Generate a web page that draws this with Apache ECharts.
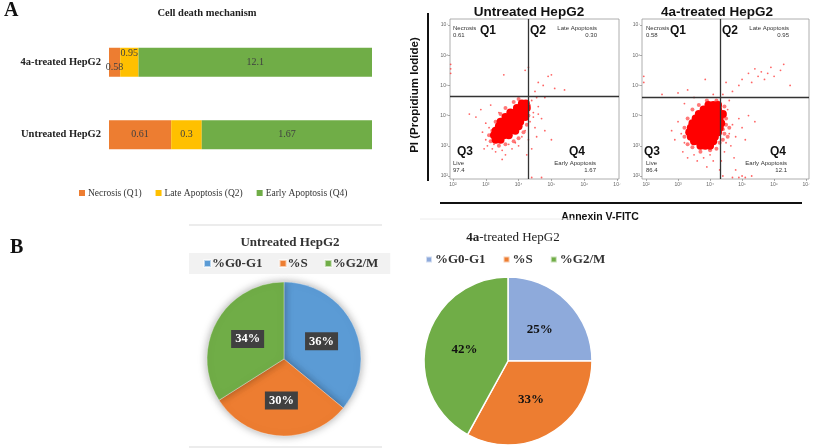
<!DOCTYPE html>
<html>
<head>
<meta charset="utf-8">
<script src="https://cdn.jsdelivr.net/npm/echarts@6/dist/echarts.min.js"></script>
<style>html,body{margin:0;padding:0;background:#fff;}#c{width:813px;height:448px;}</style>
</head>
<body>
<div id="c"></div>
<script>
// ---------- DATA ----------
var barCategories = ['4a-treated HepG2', 'Untreated HepG2'];
var necrosisQ1 = [0.58, 0.61];
var lateApoptosisQ2 = [0.95, 0.3];
var earlyApoptosisQ4 = [12.1, 1.67];

var quadNames = ['Necrosis', 'Late Apoptosis', 'Live', 'Early Apoptosis'];
var untreatedQuad = ['0.61', '0.30', '97.4', '1.67'];
var treatedQuad = ['0.58', '0.95', '86.4', '12.1'];
var logTicks = [2, 3, 4, 5, 6, 7];

// untreated flow events (log10 Annexin V, log10 PI), hand-read
var untreatedCore = [[3.3,3.2],[3.45,3.2],[3.25,3.35],[3.4,3.35],[3.55,3.35],[3.7,3.35],[3.3,3.5],[3.45,3.5],[3.6,3.5],[3.75,3.5],[3.9,3.5],
  [3.4,3.65],[3.55,3.65],[3.7,3.65],[3.85,3.65],[4.0,3.65],[3.45,3.8],[3.6,3.8],[3.75,3.8],[3.9,3.8],[4.05,3.8],
  [3.6,3.95],[3.75,3.95],[3.9,3.95],[4.05,3.95],[4.2,3.95],[3.75,4.1],[3.9,4.1],[4.05,4.1],[4.2,4.1],[3.95,4.25],[4.1,4.25],[4.25,4.25],[4.1,4.4],[4.22,4.4]];
var untreatedHalo = [[3.15,3.15],[3.2,3.5],[3.3,3.8],[3.45,4.05],[3.6,4.25],[3.85,4.45],[4.0,4.55],[4.3,4.3],[4.3,4.0],[4.25,3.7],[4.15,3.45],[4.0,3.25],[3.85,3.15],[3.6,3.05],[3.4,3.0],[3.1,3.35]];
var untreatedSparse = [[2.9,3.45],[3.0,3.2],[3.1,3.6],[3.05,3.0],[3.2,2.9],[3.3,2.8],[3.5,2.85],[3.6,2.7],[3.8,2.9],[3.9,3.1],[4.1,3.3],[4.2,3.5],[4.35,3.8],[4.45,4.1],[4.5,3.6],[4.6,4.3],[4.4,4.5],[4.7,3.9],[4.55,3.3],[4.8,4.6],[4.5,4.8],[4.6,5.1],[4.9,5.3],[5.0,5.35],[4.75,5.0],[5.1,4.9],[5.4,4.85],[4.3,5.6],[4.2,5.5],[3.55,5.35],[2.7,3.95],[2.5,4.05],[2.85,4.2],[3.15,4.35],[3.4,4.1],[3.0,3.75],[3.25,3.05],[3.7,3.05],[4.0,3.0],[4.25,2.7],[4.3,3.2],[4.8,3.5],[5.0,3.2],[4.4,2.9],[3.5,2.55],[2.95,2.9],[4.55,4.6],[4.35,4.35],[4.45,3.95],[4.6,4.05],[1.93,5.4],[1.93,5.55],[1.93,5.7],[4.4,1.95],[4.7,1.95]];

// 4a-treated flow events
var treatedCore = [[3.7,3.0],[3.85,3.0],[4.0,3.0],[3.5,3.15],[3.65,3.15],[3.8,3.15],[3.95,3.15],[4.1,3.15],
  [3.4,3.3],[3.55,3.3],[3.7,3.3],[3.85,3.3],[4.0,3.3],[4.15,3.3],[3.35,3.45],[3.5,3.45],[3.65,3.45],[3.8,3.45],[3.95,3.45],[4.1,3.45],[4.25,3.45],
  [3.4,3.6],[3.55,3.6],[3.7,3.6],[3.85,3.6],[4.0,3.6],[4.15,3.6],[4.3,3.6],[3.45,3.75],[3.6,3.75],[3.75,3.75],[3.9,3.75],[4.05,3.75],[4.2,3.75],[4.35,3.75],
  [3.55,3.9],[3.7,3.9],[3.85,3.9],[4.0,3.9],[4.15,3.9],[4.3,3.9],[3.65,4.05],[3.8,4.05],[3.95,4.05],[4.1,4.05],[4.25,4.05],[4.4,4.05],
  [3.8,4.2],[3.95,4.2],[4.1,4.2],[4.25,4.2],[3.95,4.35],[4.1,4.35],[4.25,4.35]];
var treatedHalo = [[3.2,3.3],[3.2,3.6],[3.3,3.9],[3.45,4.2],[3.65,4.35],[3.9,4.5],[4.2,4.5],[4.45,4.3],[4.45,4.0],[4.5,3.7],[4.45,3.4],[4.3,3.1],[4.2,2.9],[4.0,2.85],[3.7,2.8],[3.45,2.95],[3.3,3.05],[4.4,3.55],[4.5,3.9],[4.55,3.3],[4.6,3.6],[4.4,3.2]];
var treatedSparse = [[3.1,3.4],[3.0,3.8],[3.2,3.1],[3.15,2.8],[3.3,2.6],[3.5,2.7],[3.6,2.5],[3.8,2.6],[3.9,2.3],[4.0,2.7],[4.1,2.5],[4.3,2.2],[4.35,2.5],[4.4,2.0],[4.45,2.8],[4.5,3.1],[4.6,3.4],[4.7,3.7],[4.8,3.3],[4.9,3.9],[5.0,3.6],[5.2,4.0],[5.4,3.8],[4.55,4.2],[4.65,3.0],[4.75,2.6],[5.1,3.2],[4.6,4.5],[4.7,4.8],[4.9,5.0],[5.0,5.2],[5.2,5.4],[5.4,5.55],[5.5,5.3],[5.6,5.45],[5.8,5.4],[5.9,5.6],[6.0,5.3],[6.2,5.5],[6.3,5.7],[5.7,5.2],[5.3,5.1],[4.5,5.1],[4.4,4.7],[6.5,5.0],[3.5,4.6],[3.2,4.4],[2.5,4.7],[3.0,4.75],[3.85,5.2],[3.3,4.85],[4.1,4.7],[2.8,3.5],[2.9,3.2],[4.8,2.2],[5.3,2.0],[5.0,2.0],[4.7,1.95],[4.9,1.95],[5.1,1.95],[1.93,5.1],[1.93,5.3]];

var cyclePhases = ['%G0-G1', '%S', '%G2/M'];
var untreatedCycle = [36, 30, 34];
var treatedCycle = [25, 33, 42];

// ---------- CHART ----------
var SERIF = 'Liberation Serif';
var SANS = 'Liberation Sans';
var sup = {2:'\u00b2',3:'\u00b3',4:'\u2074',5:'\u2075',6:'\u2076',7:'\u2077'};

function pct(arr, i) {
  var tot = necrosisQ1[i] + lateApoptosisQ2[i] + earlyApoptosisQ4[i];
  return arr[i] / tot * 100;
}
function barSeries(name, arr, color, offsets) {
  return {
    type: 'bar', name: name, stack: 'all', xAxisIndex: 0, yAxisIndex: 0, barWidth: 29,
    itemStyle: { color: color },
    data: arr.map(function (v, i) {
      var d = { value: pct(arr, i) };
      if (offsets && offsets[i]) d.label = { offset: offsets[i] };
      return d;
    }),
    label: { show: true, position: 'inside', color: '#404040', fontFamily: SERIF, fontSize: 10,
      formatter: function (p) { return String(arr[p.dataIndex]); } }
  };
}
function flowAxis(idx, min, max, isX) {
  return {
    type: 'value', gridIndex: idx, min: min, max: max,
    splitLine: { show: false }, axisLine: { show: false },
    axisTick: { show: true, length: 2, customValues: logTicks, lineStyle: { color: '#777', width: 0.6 } },
    minorTick: { show: false },
    axisLabel: { show: true, customValues: logTicks, fontSize: 5, color: '#666', margin: isX ? 3 : 2,
      fontFamily: SANS, formatter: function (v) { return '10' + sup[v]; } }
  };
}
function flowSeries(idx, core, halo, sparse, qx, qy) {
  return [
    { type: 'scatter', xAxisIndex: idx, yAxisIndex: idx, data: sparse, symbolSize: 1.8, silent: true,
      itemStyle: { color: '#ff3030', opacity: 0.75 },
      markLine: { silent: true, symbol: 'none', label: { show: false },
        lineStyle: { color: '#333', width: 1.3, type: 'solid' },
        data: [{ xAxis: qx }, { yAxis: qy }] } },
    { type: 'scatter', xAxisIndex: idx, yAxisIndex: idx, data: halo, symbolSize: 4, silent: true,
      itemStyle: { color: '#ff4040', opacity: 0.7 } },
    { type: 'scatter', xAxisIndex: idx, yAxisIndex: idx, data: core, symbolSize: 8, silent: true,
      itemStyle: { color: '#ff0000', opacity: 1 } }
  ];
}
function txt(x, y, text, font, align, color) {
  return { type: 'text', x: x, y: y, silent: true,
    style: { text: text, font: font, fill: color || '#222', textAlign: align || 'left', align: align || 'left',
      textVerticalAlign: 'middle', verticalAlign: 'middle' } };
}
function quadText(q, qxs) {
  // qxs: [necX, q1X, q2X, lateX, q3X, liveX, q4X, earlyX]
  var s = '6px ' + SANS, b = 'bold 12px ' + SANS;
  return [
    txt(qxs[0], 28, quadNames[0], s, 'left', '#333'), txt(qxs[0], 35, q[0], s, 'left', '#333'),
    txt(qxs[1], 31, 'Q1', b, 'center', '#111'), txt(qxs[2], 31, 'Q2', b, 'center', '#111'),
    txt(qxs[3], 28, quadNames[1], s, 'right', '#333'), txt(qxs[3], 35, q[1], s, 'right', '#333'),
    txt(qxs[4], 152, 'Q3', b, 'center', '#111'), txt(qxs[6], 152, 'Q4', b, 'center', '#111'),
    txt(qxs[5], 163, quadNames[2], s, 'left', '#333'), txt(qxs[5], 170, q[2], s, 'left', '#333'),
    txt(qxs[7], 163, quadNames[3], s, 'right', '#333'), txt(qxs[7], 170, q[3], s, 'right', '#333')
  ];
}
function pieData(vals, colors) {
  return vals.map(function (v, i) { return { name: cyclePhases[i], value: v, itemStyle: { color: colors[i] } }; });
}
var untreatedColors = ['#5b9bd5', '#ed7d31', '#70ad47'];
var treatedColors = ['#8eaadb', '#ed7d31', '#70ad47'];

var chart = echarts.init(document.getElementById('c'), null, { renderer: 'canvas' });
var option = {
  animation: false,
  backgroundColor: '#ffffff',
  title: [
    { text: 'Cell death mechanism', left: 202, top: 3, textAlign: 'center',
      textStyle: { fontFamily: SERIF, fontWeight: 'bold', fontSize: 10.5, color: '#222' } },
    { text: 'Untreated HepG2', left: 524, top: 0, textAlign: 'center',
      textStyle: { fontFamily: SANS, fontWeight: 'bold', fontSize: 13.5, color: '#111' } },
    { text: '4a-treated HepG2', left: 712, top: 0, textAlign: 'center',
      textStyle: { fontFamily: SANS, fontWeight: 'bold', fontSize: 13.5, color: '#111' } },
    { text: 'Untreated HepG2', left: 285, top: 231, textAlign: 'center',
      textStyle: { fontFamily: SERIF, fontWeight: 'bold', fontSize: 13, color: '#333' } },
    { text: '{b|4a}-treated HepG2', left: 508, top: 226, textAlign: 'center',
      textStyle: { fontFamily: SERIF, fontWeight: 'normal', fontSize: 13, color: '#222',
        rich: { b: { fontFamily: SERIF, fontWeight: 'bold', fontSize: 13, color: '#222' } } } }
  ],
  legend: [
    { data: ['Necrosis (Q1)', 'Late Apoptosis (Q2)', 'Early Apoptosis (Q4)'], left: 74, top: 183,
      orient: 'horizontal', icon: 'rect', itemWidth: 6, itemHeight: 6, itemGap: 14, selectedMode: false,
      textStyle: { fontFamily: SERIF, fontSize: 9.5, color: '#333', padding: [0, 0, 0, -2] } },
    { data: cyclePhases, left: 189, top: 253, icon: 'rect', itemWidth: 7, itemHeight: 7, itemGap: 16,
      selectedMode: false, backgroundColor: '#f2f2f2', padding: [4, 12, 4, 14],
      textStyle: { fontFamily: SERIF, fontWeight: 'bold', fontSize: 13, color: '#333', padding: [0, 0, 0, -4] } },
    { data: cyclePhases.map(function (n, i) { return { name: n, itemStyle: { color: treatedColors[i] } }; }),
      left: 425, top: 249, icon: 'rect', itemWidth: 6, itemHeight: 6, itemGap: 17,
      selectedMode: false, padding: [4, 0, 4, 0],
      textStyle: { fontFamily: SERIF, fontWeight: 'bold', fontSize: 13, color: '#333', padding: [0, 0, 0, -2] } }
  ],
  grid: [
    { left: 109, top: 26, width: 263, height: 145, containLabel: false },
    { left: 450, top: 19, width: 169, height: 160, show: true, borderColor: '#9a9a9a', borderWidth: 0.8 },
    { left: 642, top: 19, width: 167, height: 160, show: true, borderColor: '#9a9a9a', borderWidth: 0.8 }
  ],
  xAxis: [
    { type: 'value', gridIndex: 0, min: 0, max: 100, show: false },
    flowAxis(1, 1.91, 7.06, true),
    flowAxis(2, 1.875, 7.09, true)
  ],
  yAxis: [
    { type: 'category', gridIndex: 0, data: barCategories, inverse: true,
      axisLine: { show: false }, axisTick: { show: false },
      axisLabel: { margin: 8, fontFamily: SERIF, fontWeight: 'bold', fontSize: 10.5, color: '#222' } },
    flowAxis(1, 1.9, 7.2, false),
    flowAxis(2, 1.9, 7.2, false)
  ],
  series: [
    barSeries('Necrosis (Q1)', necrosisQ1, '#ed7d31', [[0, 5], null]),
    barSeries('Late Apoptosis (Q2)', lateApoptosisQ2, '#ffc000', [[0, -9], null]),
    barSeries('Early Apoptosis (Q4)', earlyApoptosisQ4, '#70ad47', null)
  ].concat(flowSeries(1, untreatedCore, untreatedHalo, untreatedSparse, 4.3, 4.63))
   .concat(flowSeries(2, treatedCore, treatedHalo, treatedSparse, 4.33, 4.6))
   .concat([
    { type: 'pie', name: 'untreated', center: [284, 359], radius: 77, startAngle: 90, clockwise: true,
      silent: true, data: pieData(untreatedCycle, untreatedColors),
      itemStyle: { shadowBlur: 8, shadowColor: 'rgba(0,0,0,0.35)', borderColor: 'rgba(255,255,255,0.6)', borderWidth: 0.6 },
      labelLine: { show: false },
      label: { show: true, position: 'inside', formatter: '{c}%', color: '#fff', fontFamily: SERIF,
        fontWeight: 'bold', fontSize: 12.5, backgroundColor: '#404040', padding: [3, 4, 2, 4] } },
    { type: 'pie', name: 'treated', center: [508, 361], radius: 84, startAngle: 90, clockwise: true,
      silent: true, data: pieData(treatedCycle, treatedColors),
      itemStyle: { borderColor: '#fff', borderWidth: 1.5 },
      labelLine: { show: false },
      label: { show: true, position: 'inside', formatter: '{c}%', color: '#111', fontFamily: SERIF,
        fontWeight: 'bold', fontSize: 13 } }
  ]),
  graphic: [
    txt(4, 11, 'A', 'bold 20px ' + SERIF, 'left', '#111'),
    txt(10, 248, 'B', 'bold 20px ' + SERIF, 'left', '#111'),
    { type: 'text', x: 415, y: 95, rotation: Math.PI / 2, silent: true,
      style: { text: 'PI (Propidium Iodide)', font: 'bold 11.5px ' + SANS, fill: '#111',
        textAlign: 'center', align: 'center', textVerticalAlign: 'middle', verticalAlign: 'middle' } },
    { type: 'line', silent: true, shape: { x1: 428, y1: 13, x2: 428, y2: 181 }, style: { stroke: '#111', lineWidth: 2 } },
    { type: 'line', silent: true, shape: { x1: 440, y1: 203, x2: 802, y2: 203 }, style: { stroke: '#111', lineWidth: 2 } },
    txt(600, 217, 'Annexin V-FITC', 'bold 10.5px ' + SANS, 'center', '#111'),
    { type: 'line', silent: true, shape: { x1: 189, y1: 225, x2: 382, y2: 225 }, style: { stroke: '#d9d9d9', lineWidth: 1 } },
    { type: 'line', silent: true, shape: { x1: 189, y1: 447, x2: 382, y2: 447 }, style: { stroke: '#d9d9d9', lineWidth: 1 } },
    { type: 'line', silent: true, shape: { x1: 420, y1: 219, x2: 575, y2: 219 }, style: { stroke: '#ececec', lineWidth: 1 } }
  ].concat(quadText(untreatedQuad, [453, 488, 538, 597, 465, 453, 577, 596]))
   .concat(quadText(treatedQuad, [646, 678, 730, 789, 652, 646, 778, 787]))
};
chart.setOption(option);
</script>
</body>
</html>
